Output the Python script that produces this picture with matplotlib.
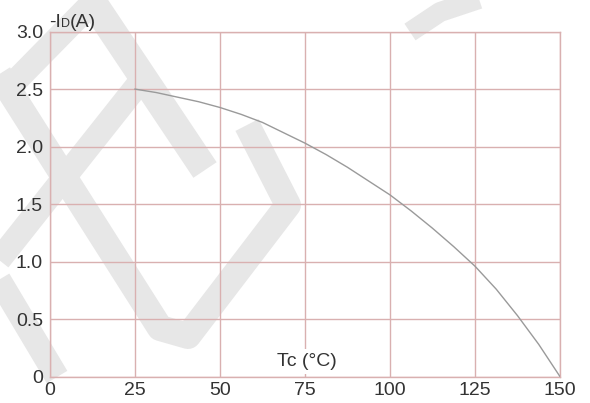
import numpy as np
import matplotlib
matplotlib.use("Agg")
import matplotlib.pyplot as plt
from matplotlib.lines import Line2D
from matplotlib.offsetbox import TextArea, HPacker, AnchoredOffsetbox

plt.rcParams['font.family'] = ['Liberation Sans', 'DejaVu Sans']

# derating curve
tc = [25, 31.25, 37.5, 43.75, 50, 56.25, 62.5, 68.75, 75, 81.25, 87.5,
      93.75, 100, 106.25, 112.5, 118.75, 125, 131.25, 137.5, 143.75, 150]
id_a = [2.50, 2.47, 2.43, 2.39, 2.34, 2.28, 2.21, 2.12, 2.03, 1.93, 1.82,
        1.70, 1.58, 1.44, 1.29, 1.13, 0.96, 0.76, 0.53, 0.28, 0.0]

x_ticks = [0, 25, 50, 75, 100, 125, 150]
y_ticks = [0, 0.5, 1.0, 1.5, 2.0, 2.5, 3.0]
y_labels = ['0', '0.5', '1.0', '1.5', '2.0', '2.5', '3.0']

grid_col = '#d9b0b0'
txt_col = '#333333'

W, H = 590, 403
fig = plt.figure(figsize=(W / 100, H / 100), dpi=100)


def px(pts):
    # pixel coords (y down) -> figure fraction
    return [p[0] / W for p in pts], [1 - p[1] / H for p in pts]


# faint watermark strokes in the background
wm = '#e7e7e7'
strokes = [
    ([(88, -5), (205, 170)], 28),
    ([(-5, 102), (95, 0)], 24),
    ([(140, 82), (-5, 265)], 24),
    ([(-5, 68), (160, 328), (188, 336), (288, 205), (247, 125)], 26),
    ([(-5, 273), (57, 377)], 24),
    ([(410, 32), (440, 12), (485, -3)], 20),
]
for pts, w in strokes:
    xs, ys = px(pts)
    fig.add_artist(Line2D(xs, ys, transform=fig.transFigure, color=wm,
                          lw=w * 0.72, solid_capstyle='butt',
                          solid_joinstyle='round', zorder=0))

ax = fig.add_axes([50 / W, 1 - 376.6 / H, 510 / W, 345 / H])
ax.patch.set_alpha(0)

ax.plot(tc, id_a, color='#9a9a9a', lw=1.0, zorder=3)

ax.set_xlim(0, 150)
ax.set_ylim(0, 3.0)
ax.set_xticks(x_ticks)
ax.set_xticklabels([str(v) for v in x_ticks])
ax.set_yticks(y_ticks)
ax.set_yticklabels(y_labels)
ax.tick_params(length=0, labelsize=14, labelcolor=txt_col)
ax.tick_params(axis='y', pad=5)
ax.tick_params(axis='x', pad=4)
ax.grid(True, color=grid_col, lw=1.0)
for s in ax.spines.values():
    s.set_color(grid_col)
    s.set_linewidth(1.0)

# x label sits inside the plot on a white patch
ax.text(75.5, 0.13, 'Tc (°C)', ha='center', va='center', fontsize=14,
        color=txt_col, zorder=4,
        bbox=dict(facecolor='white', edgecolor='none', pad=3))

# y label: -I with small D
parts = [TextArea('-I', textprops=dict(fontsize=14, color=txt_col)),
         TextArea('D', textprops=dict(fontsize=9, color=txt_col)),
         TextArea('(A)', textprops=dict(fontsize=14, color=txt_col))]
box = HPacker(children=parts, align='baseline', pad=0, sep=0)
ab = AnchoredOffsetbox(loc='lower left', child=box, frameon=False,
                       bbox_to_anchor=(49 / W, 1 - 31 / H),
                       bbox_transform=fig.transFigure, borderpad=0, pad=0)
fig.add_artist(ab)

fig.savefig('out.png', dpi=100)
